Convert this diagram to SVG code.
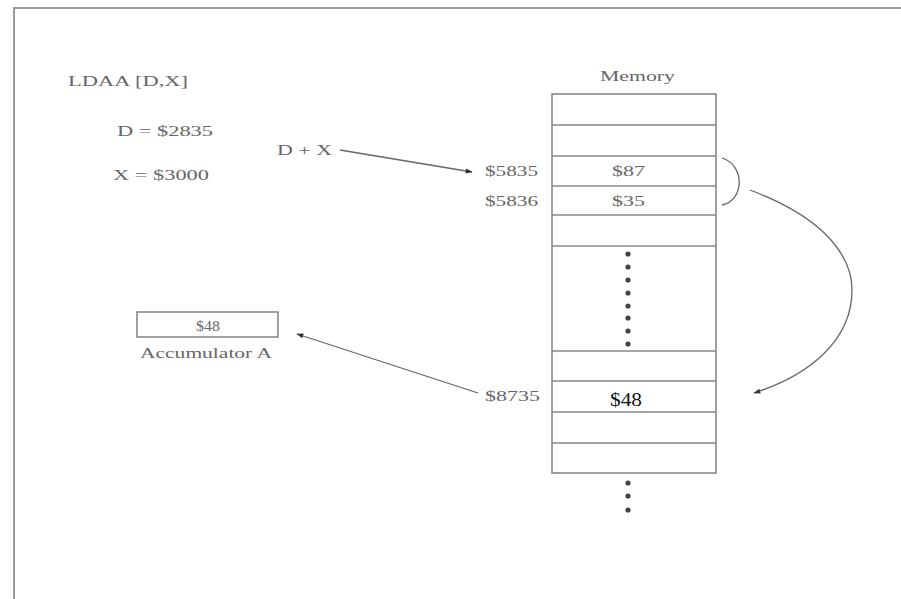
<svg xmlns="http://www.w3.org/2000/svg" width="901" height="599" viewBox="0 0 901 599">
<defs>
<style>
.t{font-family:"Liberation Serif","Times New Roman",serif;font-size:14px;fill:#666}
.box{fill:#fff;stroke:#888;stroke-width:1.6}
.ln{stroke:#888;stroke-width:1.6;fill:none}
.con{stroke:#666;stroke-width:1.3;fill:none}
.dot{fill:#444}
</style>
<marker id="ah" viewBox="0 0 10 10" refX="9" refY="5" markerWidth="10" markerHeight="7" markerUnits="userSpaceOnUse" orient="auto">
<path d="M0,1.5 L10,5 L0,8.5 z" fill="#333"/>
</marker>
</defs>
<rect x="0" y="0" width="901" height="599" fill="#fff"/>
<path d="M14,599 V8 H901" stroke="#999" stroke-width="2" fill="none"/>

<g id="instruction">
<text class="t" x="68" y="86" textLength="120" lengthAdjust="spacingAndGlyphs">LDAA [D,X]</text>
<text class="t" x="117" y="136" textLength="96" lengthAdjust="spacingAndGlyphs">D = $2835</text>
<text class="t" x="113" y="180" textLength="96" lengthAdjust="spacingAndGlyphs">X = $3000</text>
<text class="t" x="277" y="155" textLength="55" lengthAdjust="spacingAndGlyphs">D + X</text>
</g>

<g id="memory">
<text class="t" x="600" y="81" textLength="75" lengthAdjust="spacingAndGlyphs">Memory</text>
<rect class="box" x="552" y="94" width="164" height="379"/>
<path class="ln" d="M552,125H716M552,156H716M552,186H716M552,215H716M552,246H716M552,351H716M552,381H716M552,412H716M552,443H716"/>
<text class="t" x="612" y="176" textLength="33" lengthAdjust="spacingAndGlyphs">$87</text>
<text class="t" x="612" y="206" textLength="33" lengthAdjust="spacingAndGlyphs">$35</text>
<text x="610" y="406" font-family="'Liberation Serif','Times New Roman',serif" font-size="19" fill="#111" textLength="32" lengthAdjust="spacingAndGlyphs">$48</text>
<g class="dot">
<circle cx="628" cy="254" r="2.6"/><circle cx="628" cy="267" r="2.6"/><circle cx="628" cy="280" r="2.6"/><circle cx="628" cy="293" r="2.6"/><circle cx="628" cy="306" r="2.6"/><circle cx="628" cy="318" r="2.6"/><circle cx="628" cy="331" r="2.6"/><circle cx="628" cy="344" r="2.6"/>
<circle cx="628" cy="483" r="2.6"/><circle cx="628" cy="496" r="2.6"/><circle cx="628" cy="510" r="2.6"/>
</g>
<text class="t" x="485" y="176" textLength="53" lengthAdjust="spacingAndGlyphs">$5835</text>
<text class="t" x="485" y="206" textLength="53" lengthAdjust="spacingAndGlyphs">$5836</text>
<text class="t" x="485" y="401" textLength="55" lengthAdjust="spacingAndGlyphs">$8735</text>
</g>

<g id="accumulator">
<rect class="box" x="137" y="312" width="141" height="25"/>
<text class="t" x="208" y="331" text-anchor="middle" textLength="24" lengthAdjust="spacingAndGlyphs">$48</text>
<text class="t" x="140" y="358" textLength="132" lengthAdjust="spacingAndGlyphs">Accumulator A</text>
</g>

<g id="connectors">
<path class="con" d="M340,150 L472,172" marker-end="url(#ah)"/>
<path class="con" d="M722,158 C745,165 745,200 722,205"/>
<path class="con" d="M750,190 C830,220 852,260 852,290 C852,340 810,375 754,393" marker-end="url(#ah)"/>
<path class="con" d="M478,393 L297,334" marker-end="url(#ah)"/>
</g>
</svg>
